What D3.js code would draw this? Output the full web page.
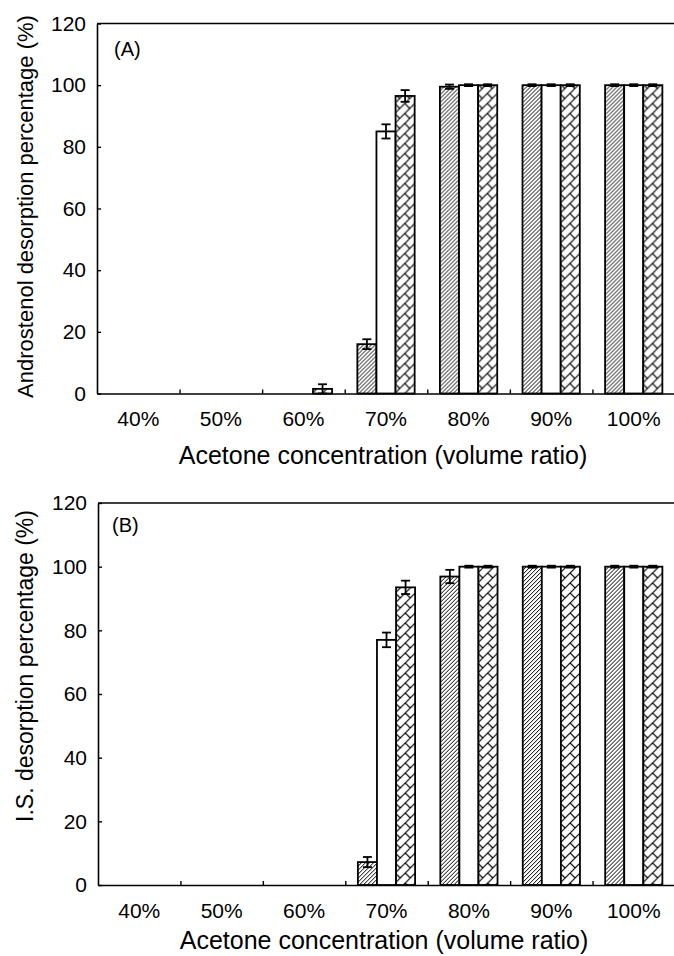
<!DOCTYPE html>
<html>
<head>
<meta charset="utf-8">
<script src="https://cdn.jsdelivr.net/npm/d3@7"></script>
<style>
  body { margin: 0; background: #fff; }
  svg text { font-family: "Liberation Sans", Arial, sans-serif; fill: #000; }
</style>
</head>
<body>
<svg id="chart" width="674" height="956"></svg>
<script>
// acetone concentrations on the x axis
const categories = ["40%", "50%", "60%", "70%", "80%", "90%", "100%"];
// three bar series per concentration (hatched, white, brick)
const seriesKeys = ["hatch", "white", "brick"];

// panel A - androstenol
const androHatch = [0, 0, 0, 16, 99.5, 100, 100];
const androWhite = [0, 0, 0, 85, 100, 100, 100];
const androBrick = [0, 0, 1.5, 96.5, 100, 100, 100];
const androHatchErr = [0, 0, 0, 1.6, 0.7, 0.3, 0.3];
const androWhiteErr = [0, 0, 0, 2.3, 0.3, 0.3, 0.3];
const androBrickErr = [0, 0, 1.5, 1.9, 0.3, 0.3, 0.3];

// panel B - internal standard
const isHatch = [0, 0, 0, 7.2, 96.9, 100, 100];
const isWhite = [0, 0, 0, 77, 100, 100, 100];
const isBrick = [0, 0, 0, 93.5, 100, 100, 100];
const isHatchErr = [0, 0, 0, 1.6, 2.1, 0.3, 0.3];
const isWhiteErr = [0, 0, 0, 2.3, 0.3, 0.3, 0.3];
const isBrickErr = [0, 0, 0, 2.1, 0.3, 0.3, 0.3];

const yTicks = [0, 20, 40, 60, 80, 100, 120];

const svg = d3.select("#chart");
const defs = svg.append("defs");

// dense diagonal hatch
const hatch = defs.append("pattern")
  .attr("id", "hatch")
  .attr("patternUnits", "userSpaceOnUse")
  .attr("width", 4).attr("height", 4);
hatch.append("rect").attr("width", 4).attr("height", 4).attr("fill", "#fff");
hatch.append("path")
  .attr("d", "M-1,1 L1,-1 M0,4 L4,0 M3,5 L5,3")
  .attr("stroke", "#000").attr("stroke-width", 1);

// diagonal brick
const bs = 10;
const brick = defs.append("pattern")
  .attr("id", "brick")
  .attr("patternUnits", "userSpaceOnUse")
  .attr("width", bs).attr("height", bs);
brick.append("rect").attr("width", bs).attr("height", bs).attr("fill", "#fff");
brick.append("path")
  .attr("d", `M0,${bs} L${bs},0 M-1,1 L1,-1 M${bs - 1},${bs + 1} L${bs + 1},${bs - 1} M0,0 L${bs / 2},${bs / 2}`)
  .attr("stroke", "#000").attr("stroke-width", 1.2);

const fills = { hatch: "url(#hatch)", white: "#fff", brick: "url(#brick)" };

function drawPanel(opt) {
  const g = svg.append("g").attr("transform", `translate(${opt.left},${opt.top})`);
  const w = opt.width, h = opt.height;

  const x0 = d3.scaleBand().domain(categories).range([0, w]).padding(0);
  const x1 = d3.scaleBand().domain(seriesKeys)
    .range([x0.bandwidth() * 0.153, x0.bandwidth() * 0.847]);
  const y = d3.scaleLinear().domain([0, 120]).range([h, 0]);

  // rows: one per category with the three values
  const rows = categories.map((c, i) => ({
    cat: c,
    bars: seriesKeys.map(k => ({ key: k, value: opt.values[k][i], err: opt.errors[k][i] }))
  }));

  const groups = g.selectAll(".grp").data(rows).enter().append("g")
    .attr("class", "grp")
    .attr("transform", d => `translate(${x0(d.cat)},0)`);

  groups.selectAll("rect").data(d => d.bars.filter(b => b.value > 0)).enter().append("rect")
    .attr("x", b => x1(b.key))
    .attr("y", b => y(b.value))
    .attr("width", x1.bandwidth())
    .attr("height", b => h - y(b.value))
    .attr("fill", b => fills[b.key])
    .attr("stroke", "#000")
    .attr("stroke-width", 1.8);

  // error bars
  const eb = groups.selectAll(".err").data(d => d.bars.filter(b => b.err > 0)).enter().append("g")
    .attr("class", "err")
    .attr("stroke", "#000").attr("stroke-width", 1.8);
  const cap = 4.5;
  eb.append("line")
    .attr("x1", b => x1(b.key) + x1.bandwidth() / 2)
    .attr("x2", b => x1(b.key) + x1.bandwidth() / 2)
    .attr("y1", b => y(b.value + b.err))
    .attr("y2", b => y(b.value - b.err));
  eb.append("line")
    .attr("x1", b => x1(b.key) + x1.bandwidth() / 2 - cap)
    .attr("x2", b => x1(b.key) + x1.bandwidth() / 2 + cap)
    .attr("y1", b => y(b.value + b.err))
    .attr("y2", b => y(b.value + b.err));
  eb.append("line")
    .attr("x1", b => x1(b.key) + x1.bandwidth() / 2 - cap)
    .attr("x2", b => x1(b.key) + x1.bandwidth() / 2 + cap)
    .attr("y1", b => y(b.value - b.err))
    .attr("y2", b => y(b.value - b.err));

  // y axis, ticks point inward
  const yAxis = g.append("g")
    .call(d3.axisLeft(y).tickValues(yTicks).tickSizeInner(-4).tickSizeOuter(0).tickPadding(11));
  yAxis.selectAll("text").style("font-size", "21px");

  // x axis labels at the centre of each category
  const xAxis = g.append("g").attr("transform", `translate(0,${h})`)
    .call(d3.axisBottom(x0).tickSize(0).tickPadding(18));
  xAxis.selectAll("text").style("font-size", "21px");

  // inward ticks between the categories
  const xEdge = d3.scaleLinear().domain([0, categories.length]).range([0, w]);
  g.append("g").attr("transform", `translate(0,${h})`)
    .call(d3.axisBottom(xEdge).tickValues(d3.range(1, categories.length))
      .tickSizeInner(-4).tickSizeOuter(0).tickFormat(""))
    .select(".domain").remove();

  g.selectAll(".domain").attr("stroke-width", 1.6);
  g.selectAll(".tick line").attr("stroke-width", 1.4);

  // frame top line
  g.append("line")
    .attr("x1", 0).attr("x2", w).attr("y1", 0).attr("y2", 0)
    .attr("stroke", "#000").attr("stroke-width", 1.6);

  // panel letter
  g.append("text")
    .attr("x", opt.labelX).attr("y", opt.labelY)
    .style("font-size", "20px")
    .text(opt.label);

  // axis titles
  g.append("text")
    .attr("x", 286).attr("y", h + opt.xTitleDy)
    .attr("text-anchor", "middle")
    .style("font-size", "25px")
    .text("Acetone concentration (volume ratio)");

  g.append("text")
    .attr("transform", `translate(${-opt.left + 33},${opt.yTitleY}) rotate(-90)`)
    .attr("text-anchor", "middle")
    .style("font-size", opt.yTitleSize)
    .text(opt.yTitle);
}

drawPanel({
  left: 97, top: 23.5, width: 578, height: 370,
  values: { hatch: androHatch, white: androWhite, brick: androBrick },
  errors: { hatch: androHatchErr, white: androWhiteErr, brick: androBrickErr },
  label: "(A)", labelX: 17, labelY: 32,
  xTitleDy: 70, yTitleY: 183, yTitleSize: "22px",
  yTitle: "Androstenol desorption percentage (%)"
});

drawPanel({
  left: 98, top: 503, width: 577, height: 382,
  values: { hatch: isHatch, white: isWhite, brick: isBrick },
  errors: { hatch: isHatchErr, white: isWhiteErr, brick: isBrickErr },
  label: "(B)", labelX: 14, labelY: 29,
  xTitleDy: 64, yTitleY: 163, yTitleSize: "23px",
  yTitle: "I.S. desorption percentage (%)"
});
</script>
</body>
</html>
